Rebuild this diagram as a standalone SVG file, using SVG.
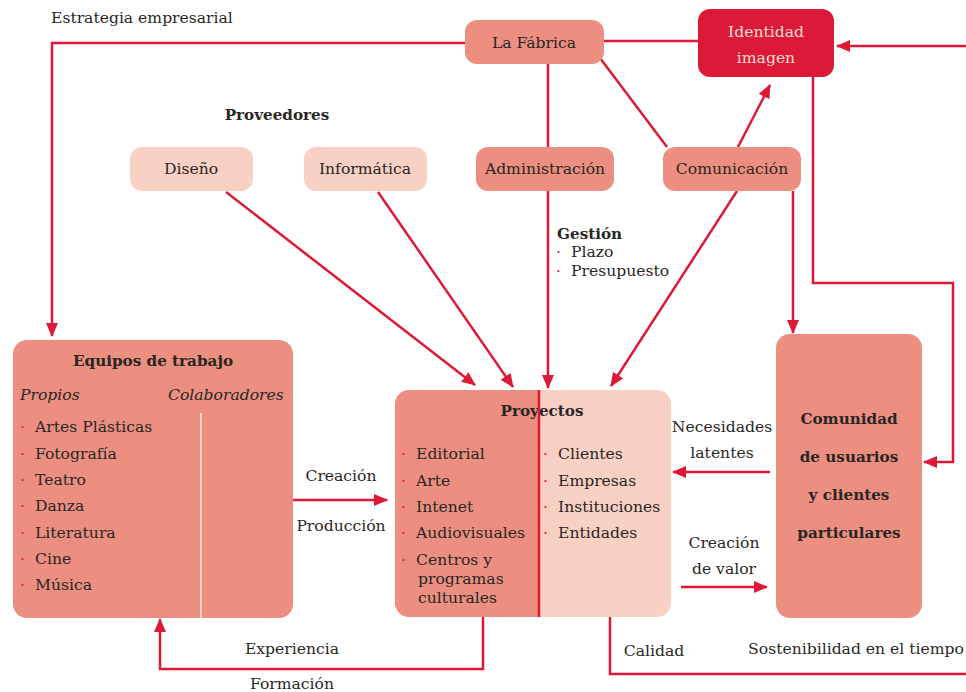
<svg xmlns="http://www.w3.org/2000/svg" width="966" height="692" viewBox="0 0 966 692">
  <defs>
    <marker id="arrow" viewBox="0 0 14 12" refX="13" refY="6" markerWidth="14" markerHeight="12" markerUnits="userSpaceOnUse" orient="auto">
      <path d="M0,0 L14,6 L0,12 z" fill="#DC1A37"/>
    </marker>
  </defs>
  <style>
    text { font-family: "DejaVu Serif", "Liberation Serif", serif; font-size: 15.6px; fill: #2a2624; }
    .b { font-weight: bold; font-size: 15.2px; }
    .i { font-style: italic; }
    .c { text-anchor: middle; }
    .dot { fill: #DC1A37; }
    .salmon { fill: #EC8F80; }
    .light { fill: #F8D0C4; }
    .red { fill: #DC1A37; }
    .link { fill: none; stroke: #DC1A37; stroke-width: 2.5; }
    .head { marker-end: url(#arrow); }
  </style>

  <!-- connectors -->
  <g id="connectors">
    <path class="link head" d="M465,43 H52 V336"/>
    <path class="link" d="M604,41 H698"/>
    <path class="link head" d="M966,46 H837"/>
    <path class="link" d="M548,64 V147"/>
    <path class="link head" d="M548,191 V388"/>
    <path class="link" d="M600,58 L667,147"/>
    <path class="link head" d="M738,147 L770,85"/>
    <path class="link head" d="M737,191 L611,386"/>
    <path class="link head" d="M793,191 V333"/>
    <path class="link head" d="M813,77 V283 H953 V462 H924"/>
    <path class="link head" d="M226,192 L475,385"/>
    <path class="link head" d="M378,192 L513,387"/>
    <path class="link head" d="M293,500 H387"/>
    <path class="link head" d="M483,617 V669 H160 V619"/>
    <path class="link" d="M610,617 V674 H966"/>
    <path class="link head" d="M770,472 H673"/>
    <path class="link head" d="M681,587 H767"/>
  </g>

  <!-- connector labels -->
  <g id="labels">
    <text x="51" y="23">Estrategia empresarial</text>
    <text class="b c" x="277" y="120">Proveedores</text>
    <text class="b" x="557" y="239">Gestión</text>
    <text class="dot" x="556" y="257">·</text>
    <text x="571" y="257">Plazo</text>
    <text class="dot" x="556" y="276">·</text>
    <text x="571" y="276">Presupuesto</text>
    <text class="c" x="341" y="481">Creación</text>
    <text class="c" x="341" y="531">Producción</text>
    <text class="c" x="292" y="654">Experiencia</text>
    <text class="c" x="292" y="689">Formación</text>
    <text class="c" x="654" y="656">Calidad</text>
    <text class="c" x="856" y="654">Sostenibilidad en el tiempo</text>
    <text class="c" x="722" y="432">Necesidades</text>
    <text class="c" x="722" y="458">latentes</text>
    <text class="c" x="724" y="548">Creación</text>
    <text class="c" x="724" y="574">de valor</text>
  </g>

  <g id="la-fabrica">
    <rect class="salmon" x="465" y="20" width="139" height="44" rx="12"/>
    <text class="c" x="534" y="48">La Fábrica</text>
  </g>

  <g id="identidad">
    <rect class="red" x="698" y="9" width="136" height="68" rx="12"/>
    <text class="c" x="766" y="37" style="fill:#FADCD5">Identidad</text>
    <text class="c" x="766" y="63" style="fill:#FADCD5">imagen</text>
  </g>

  <g id="diseno">
    <rect class="light" x="130" y="147" width="123" height="44" rx="12"/>
    <text class="c" x="191" y="174">Diseño</text>
  </g>

  <g id="informatica">
    <rect class="light" x="304" y="147" width="123" height="44" rx="12"/>
    <text class="c" x="365" y="174">Informática</text>
  </g>

  <g id="administracion">
    <rect class="salmon" x="476" y="147" width="138" height="44" rx="12"/>
    <text class="c" x="545" y="174">Administración</text>
  </g>

  <g id="comunicacion">
    <rect class="salmon" x="663" y="147" width="138" height="44" rx="12"/>
    <text class="c" x="732" y="174">Comunicación</text>
  </g>

  <g id="equipos">
    <rect class="salmon" x="13" y="340" width="280" height="278" rx="14"/>
    <line x1="201" y1="413" x2="201" y2="618" stroke="#F8D5CB" stroke-width="2"/>
    <text class="b c" x="153" y="366">Equipos de trabajo</text>
    <text class="i" x="20" y="400">Propios</text>
    <text class="i" x="168" y="400">Colaboradores</text>
    <g>
      <text class="dot" x="20" y="432">·</text><text x="35" y="432">Artes Plásticas</text>
      <text class="dot" x="20" y="459">·</text><text x="35" y="459">Fotografía</text>
      <text class="dot" x="20" y="485">·</text><text x="35" y="485">Teatro</text>
      <text class="dot" x="20" y="511">·</text><text x="35" y="511">Danza</text>
      <text class="dot" x="20" y="538">·</text><text x="35" y="538">Literatura</text>
      <text class="dot" x="20" y="564">·</text><text x="35" y="564">Cine</text>
      <text class="dot" x="20" y="590">·</text><text x="35" y="590">Música</text>
    </g>
  </g>

  <g id="proyectos">
    <path class="salmon" d="M409,390 H539 V617 H409 A14,14 0 0 1 395,603 V404 A14,14 0 0 1 409,390 z"/>
    <path class="light" d="M539,390 H657 A14,14 0 0 1 671,404 V603 A14,14 0 0 1 657,617 H539 z"/>
    <text class="b c" x="542" y="416">Proyectos</text>
    <line x1="539" y1="390" x2="539" y2="617" stroke="#DC1A37" stroke-width="2.5"/>
    <text class="dot" x="401" y="459">·</text><text x="416" y="459">Editorial</text>
    <text class="dot" x="401" y="486">·</text><text x="416" y="486">Arte</text>
    <text class="dot" x="401" y="512">·</text><text x="416" y="512">Intenet</text>
    <text class="dot" x="401" y="538">·</text><text x="416" y="538">Audiovisuales</text>
    <text class="dot" x="401" y="565">·</text><text x="416" y="565">Centros y</text>
    <text x="418" y="584">programas</text>
    <text x="418" y="603">culturales</text>
    <text class="dot" x="543" y="459">·</text><text x="558" y="459">Clientes</text>
    <text class="dot" x="543" y="486">·</text><text x="558" y="486">Empresas</text>
    <text class="dot" x="543" y="512">·</text><text x="558" y="512">Instituciones</text>
    <text class="dot" x="543" y="538">·</text><text x="558" y="538">Entidades</text>
  </g>

  <g id="comunidad">
    <rect class="salmon" x="776" y="334" width="146" height="284" rx="14"/>
    <text class="b c" x="849" y="424">Comunidad</text>
    <text class="b c" x="849" y="462">de usuarios</text>
    <text class="b c" x="849" y="500">y clientes</text>
    <text class="b c" x="849" y="538">particulares</text>
  </g>
</svg>
